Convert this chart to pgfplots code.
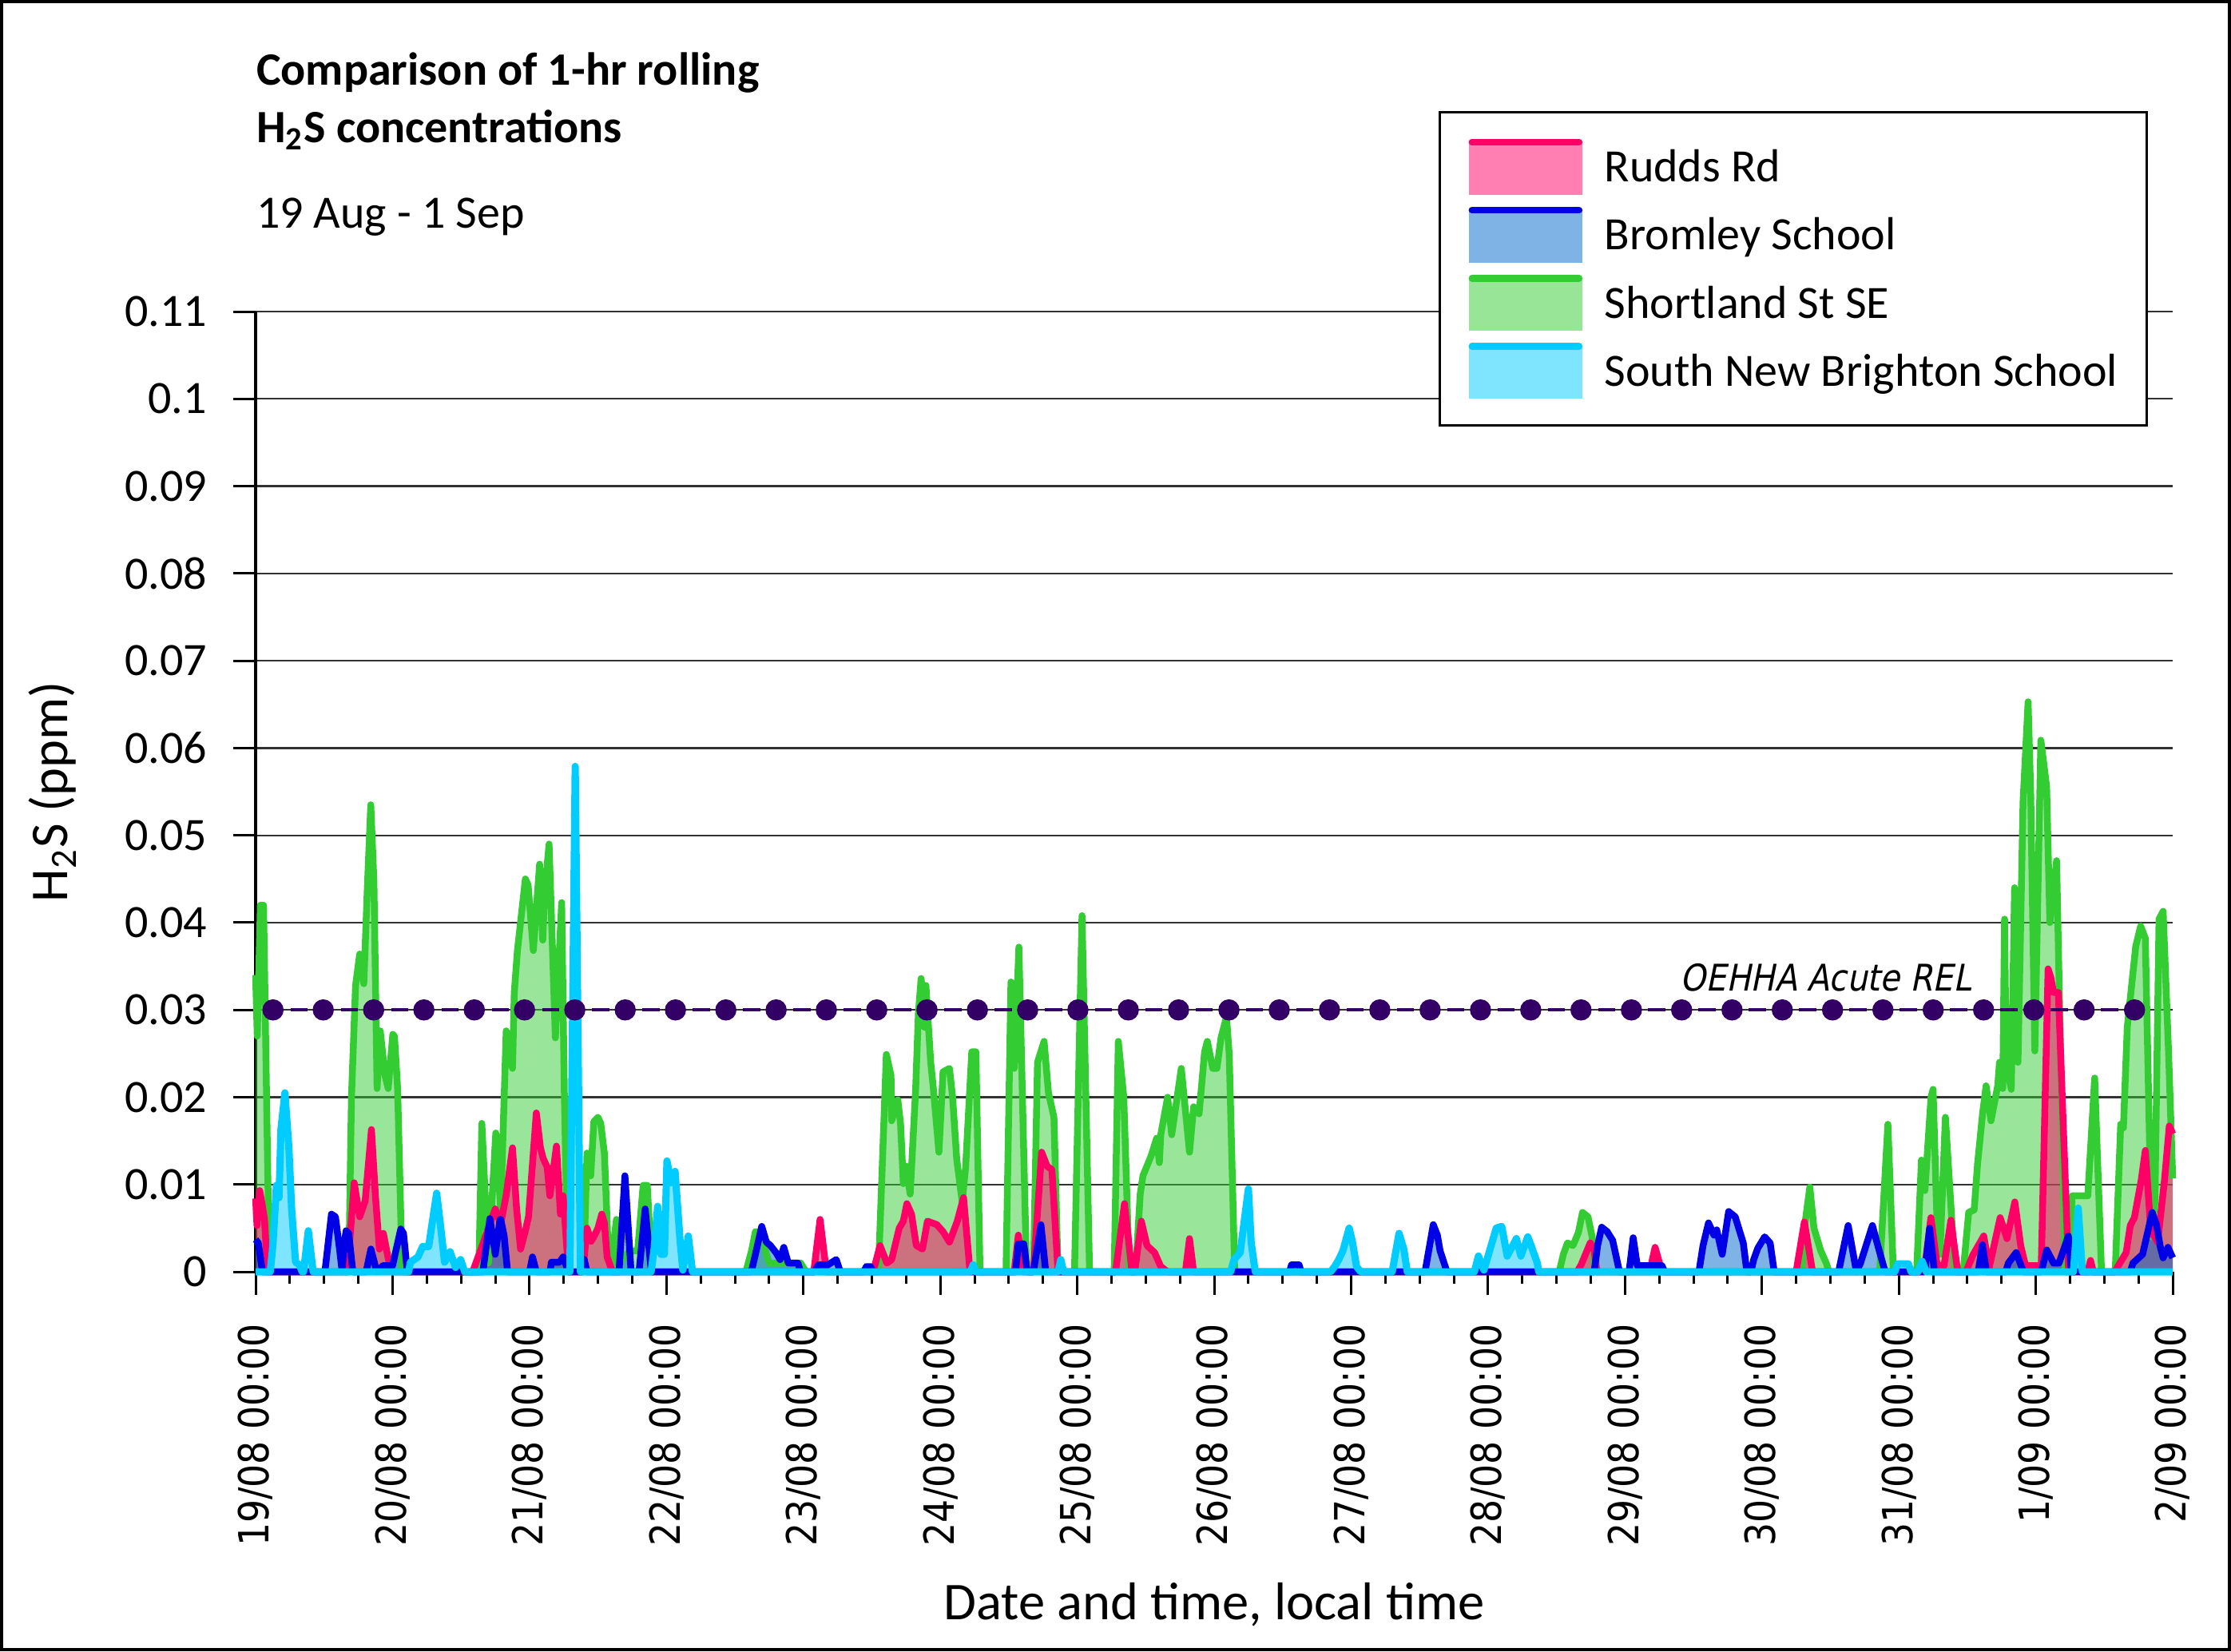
\documentclass[border=0pt]{standalone}
\usepackage{fontspec}
\setmainfont{Carlito}
\newfontfamily\tickfont[FakeStretch=0.88]{DejaVu Sans}
\newfontfamily\relfont[FakeStretch=0.88,FakeSlant=0.2]{DejaVu Sans}
\usepackage{pgfplots}
\pgfplotsset{compat=1.18}
\usepackage{pgfplotstable}

\definecolor{rrline}{RGB}{255,0,102}
\definecolor{bsline}{RGB}{0,0,230}
\definecolor{bsfill}{RGB}{0,102,204}
\definecolor{ssline}{RGB}{51,204,51}
\definecolor{snline}{RGB}{0,204,255}
\definecolor{relc}{RGB}{51,0,102}
\definecolor{gridc}{RGB}{50,50,50}

% Shortland St SE
\pgfplotstableread{
x y
0 0.034
0.012 0.027
0.035 0.042
0.058 0.042
0.08 0.02
0.1 0
0.68 0
0.70 0.020
0.73 0.0328
0.76 0.0364
0.79 0.033
0.816 0.044
0.841 0.0535
0.864 0.0447
0.887 0.021
0.91 0.0276
0.945 0.0225
0.968 0.021
1.002 0.0272
1.014 0.027
1.037 0.021
1.07 0
1.63 0
1.652 0.017
1.70 0.001
1.754 0.0159
1.79 0.0072
1.83 0.0276
1.876 0.0233
1.889 0.032
1.912 0.0368
1.97 0.045
1.99 0.0443
2.028 0.0368
2.074 0.0467
2.097 0.038
2.11 0.0432
2.143 0.049
2.189 0.0268
2.235 0.0423
2.255 0.02
2.28 0
2.395 0
2.42 0.0136
2.447 0.011
2.47 0.0172
2.50 0.0177
2.52 0.017
2.547 0.0136
2.577 0.0017
2.606 0
2.62 0.004
2.635 0.006
2.655 0.001
2.73 0.0024
2.79 0.0024
2.83 0.0099
2.86 0.0099
2.895 0
3.58 0
3.62 0.0023
3.65 0.0046
3.70 0.0045
3.73 0.002
3.75 0.001
3.98 0.001
4.02 0
4.548 0
4.606 0.0249
4.64 0.0225
4.645 0.0173
4.69 0.0197
4.71 0.0169
4.73 0.0101
4.75 0.0121
4.78 0.0089
4.82 0.0209
4.84 0.0296
4.86 0.0336
4.87 0.0318
4.885 0.028
4.895 0.0328
4.93 0.024
4.95 0.0209
4.99 0.0137
5.02 0.0229
5.067 0.0233
5.09 0.02
5.12 0.0129
5.16 0.008
5.185 0.012
5.23 0.0252
5.26 0.0252
5.29 0
5.48 0
5.516 0.0332
5.54 0.0233
5.574 0.0372
5.63 0
5.68 0
5.71 0.024
5.758 0.0264
5.79 0.0205
5.83 0.0177
5.86 0
5.98 0
6.035 0.0408
6.09 0
6.27 0
6.30 0.0264
6.34 0.02
6.38 0
6.426 0
6.46 0.0089
6.48 0.011
6.54 0.0133
6.58 0.0153
6.60 0.0125
6.61 0.0157
6.66 0.02
6.69 0.0157
6.76 0.0233
6.82 0.0137
6.85 0.0189
6.89 0.0181
6.93 0.0252
6.95 0.0264
6.99 0.0233
7.02 0.0233
7.05 0.0268
7.09 0.0292
7.11 0.0249
7.15 0
9.52 0
9.55 0.002
9.58 0.0033
9.62 0.003
9.66 0.0045
9.69 0.0068
9.73 0.0063
9.76 0.004
9.78 0
11.29 0
11.31 0.005
11.35 0.0097
11.38 0.005
11.43 0.0024
11.47 0.001
11.49 0
11.86 0
11.92 0.0169
11.96 0
12.13 0
12.165 0.0128
12.19 0.0093
12.235 0.02
12.25 0.0209
12.28 0.005
12.30 0.002
12.34 0.0177
12.41 0
12.47 0
12.51 0.0068
12.55 0.0071
12.575 0.0124
12.612 0.0182
12.637 0.0213
12.673 0.0173
12.722 0.0213
12.735 0.024
12.759 0.021
12.772 0.0404
12.784 0.024
12.821 0.0209
12.845 0.044
12.87 0.024
12.907 0.0538
12.944 0.0653
12.963 0.0547
12.993 0.0253
13.037 0.0609
13.079 0.0556
13.103 0.04
13.152 0.0471
13.214 0
13.25 0
13.265 0.0087
13.38 0.0087
13.43 0.0222
13.48 0
13.58 0
13.62 0.0169
13.64 0.0165
13.668 0.028
13.73 0.0373
13.766 0.0396
13.80 0.0382
13.845 0.004
13.87 0.008
13.90 0.0404
13.93 0.0413
13.97 0.025
14.0 0.0107
}\ssdata

% Rudds Rd
\pgfplotstableread{
x y
0 0.0084
0.01 0.0053
0.03 0.0093
0.05 0.0075
0.065 0.006
0.087 0
0.67 0
0.72 0.0102
0.76 0.0063
0.80 0.0081
0.846 0.0163
0.875 0.0087
0.904 0.0026
0.933 0.0044
0.97 0.0014
1.0 0
1.585 0
1.653 0.0029
1.70 0.005
1.75 0.0072
1.79 0.0055
1.83 0.0088
1.876 0.0142
1.906 0.0072
1.935 0.0026
1.97 0.0047
1.993 0.0063
2.05 0.0182
2.08 0.0142
2.10 0.013
2.129 0.012
2.149 0.0087
2.197 0.0144
2.226 0.0066
2.246 0.0087
2.285 0
2.39 0
2.42 0.005
2.45 0.0035
2.47 0.004
2.50 0.005
2.528 0.0066
2.547 0.0056
2.567 0.0017
2.606 0
4.076 0
4.122 0.006
4.168 0
4.51 0
4.56 0.003
4.61 0.001
4.645 0.0014
4.70 0.005
4.73 0.0058
4.756 0.0078
4.79 0.0066
4.825 0.003
4.87 0.0026
4.906 0.0058
4.975 0.0054
5.02 0.0046
5.067 0.0034
5.124 0.0058
5.17 0.0085
5.217 0
5.54 0
5.57 0.0042
5.60 0
5.68 0
5.74 0.0137
5.78 0.0121
5.815 0.0117
5.86 0
6.28 0
6.345 0.0078
6.40 0
6.42 0
6.468 0.0058
6.51 0.003
6.565 0.0022
6.61 0.0006
6.66 0
6.79 0
6.82 0.0038
6.85 0
9.65 0
9.68 0.0008
9.746 0.0033
9.775 0.0025
9.795 0
10.18 0
10.22 0.0028
10.27 0
11.25 0
11.31 0.0057
11.37 0
12.186 0
12.234 0.0062
12.28 0.0007
12.33 0.0007
12.38 0.0059
12.43 0
12.49 0
12.54 0.0019
12.62 0.0041
12.66 0.0005
12.74 0.0062
12.79 0.0038
12.847 0.008
12.89 0.003
12.925 0.0007
13.04 0.0007
13.09 0.0347
13.11 0.0337
13.13 0.032
13.165 0.032
13.24 0
13.38 0
13.40 0.0013
13.42 0
13.576 0
13.66 0.0022
13.69 0.0053
13.72 0.0062
13.77 0.0105
13.80 0.0139
13.84 0.0047
13.89 0.0034
13.94 0.0105
13.975 0.0167
14.0 0.0158
}\rrdata

% Bromley School
\pgfplotstableread{
x y
0 0.0037
0.02 0.0033
0.05 0
0.506 0
0.554 0.0066
0.583 0.0063
0.613 0.0026
0.632 0
0.645 0.003
0.661 0.0047
0.68 0.0044
0.71 0
0.807 0
0.842 0.0026
0.885 0
0.93 0.0007
1.0 0.0007
1.06 0.0049
1.08 0.0044
1.108 0
1.66 0
1.711 0.0061
1.75 0.002
1.785 0.006
1.79 0.006
1.815 0.0041
1.84 0
2.0 0
2.022 0.0017
2.05 0
2.15 0
2.16 0.0011
2.22 0.0011
2.246 0.0017
2.285 0
2.38 0
2.4 0.0014
2.42 0
2.654 0
2.697 0.011
2.742 0
2.80 0
2.845 0.0072
2.89 0
3.62 0
3.65 0.002
3.696 0.0052
3.73 0.0034
3.76 0.003
3.80 0.0022
3.83 0.0014
3.857 0.0028
3.89 0.001
3.96 0.001
3.98 0
4.08 0
4.11 0.0008
4.18 0.0008
4.24 0.0014
4.27 0
4.44 0
4.46 0.0006
4.49 0.0006
4.51 0
5.55 0
5.57 0.0032
5.61 0.0032
5.635 0
5.68 0
5.735 0.0054
5.77 0
7.55 0
7.565 0.0008
7.62 0.0008
7.635 0
8.54 0
8.60 0.0054
8.63 0.0042
8.65 0.0024
8.70 0
9.775 0
9.80 0.003
9.83 0.0051
9.87 0.0046
9.91 0.0036
9.96 0
10.03 0
10.06 0.0039
10.09 0.0007
10.27 0.0007
10.29 0
10.54 0
10.57 0.003
10.61 0.0056
10.65 0.0042
10.67 0.0048
10.71 0.002
10.757 0.0069
10.805 0.0063
10.864 0.0033
10.89 0
10.92 0
10.94 0.0014
10.97 0.0027
11.02 0.004
11.06 0.0033
11.09 0
11.56 0
11.63 0.0053
11.69 0
11.72 0.001
11.807 0.0053
11.85 0.0028
11.90 0
12.19 0
12.225 0.005
12.26 0
12.58 0
12.61 0.0031
12.64 0
12.78 0
12.80 0.001
12.857 0.0022
12.91 0
13.04 0
13.08 0.0025
13.13 0.001
13.17 0.001
13.238 0.0041
13.26 0
13.69 0
13.71 0.001
13.78 0.002
13.85 0.0068
13.88 0.0055
13.91 0.0028
13.93 0.0016
13.965 0.0028
14.0 0.0016
}\bsdata

% South New Brighton School
\pgfplotstableread{
x y
0 0
0.107 0
0.127 0.0032
0.152 0.0099
0.171 0.0085
0.185 0.0163
0.214 0.0205
0.243 0.0142
0.263 0.0072
0.292 0.0011
0.32 0.0008
0.34 0
0.35 0
0.385 0.0047
0.42 0
1.118 0
1.13 0.0011
1.186 0.0017
1.22 0.0029
1.264 0.0029
1.322 0.009
1.35 0.0053
1.38 0.0011
1.42 0.0023
1.46 0.0005
1.497 0.0014
1.527 0
2.295 0
2.334 0.0579
2.372 0
2.888 0
2.91 0.0026
2.936 0.0075
2.96 0.002
2.985 0.002
3.004 0.0127
3.034 0.0102
3.063 0.0115
3.10 0.0035
3.12 0.0002
3.16 0.0041
3.19 0
5.22 0
5.24 0.0008
5.26 0
5.86 0
5.88 0.0014
5.90 0
7.12 0
7.145 0.0014
7.19 0.0022
7.25 0.0095
7.27 0.0034
7.30 0
7.85 0
7.88 0.0006
7.91 0.0014
7.94 0.0024
7.986 0.005
8.01 0.0034
8.04 0.0006
8.07 0
8.30 0
8.35 0.0044
8.385 0.0026
8.41 0
8.90 0
8.93 0.0018
8.97 0.0002
9.06 0.005
9.10 0.0052
9.14 0.0018
9.207 0.0038
9.24 0.0018
9.29 0.004
9.31 0.0032
9.36 0.001
9.37 0
11.97 0
11.99 0.0009
12.07 0.0009
12.09 0
12.14 0
12.17 0.0012
12.20 0
13.275 0
13.31 0.0073
13.34 0
14.0 0
}\sndata

% OEHHA Acute REL
\pgfplotstableread{
x y
0.127 0.03
0.494 0.03
0.862 0.03
1.229 0.03
1.597 0.03
1.964 0.03
2.331 0.03
2.699 0.03
3.066 0.03
3.434 0.03
3.801 0.03
4.168 0.03
4.536 0.03
4.903 0.03
5.271 0.03
5.638 0.03
6.005 0.03
6.373 0.03
6.740 0.03
7.108 0.03
7.475 0.03
7.842 0.03
8.210 0.03
8.577 0.03
8.945 0.03
9.312 0.03
9.679 0.03
10.047 0.03
10.414 0.03
10.782 0.03
11.149 0.03
11.516 0.03
11.884 0.03
12.251 0.03
12.619 0.03
12.986 0.03
13.353 0.03
13.721 0.03
}\reldata

\begin{document}
\begin{tikzpicture}
\useasboundingbox (0,0) rectangle (558.6pt,-413.4pt);
\draw[line width=0.8pt] (0.4pt,-0.4pt) rectangle (558.2pt,-413pt);

\node[anchor=base west, inner sep=0pt, font=\bfseries\fontsize{11.6}{13}\selectfont] at (64pt,-21.3pt) {Comparison of 1-hr rolling};
\node[anchor=base west, inner sep=0pt, font=\bfseries\fontsize{11.6}{13}\selectfont] at (64pt,-35.6pt) {H\textsubscript{2}S concentrations};
\node[anchor=base west, inner sep=0pt, font=\fontsize{11.6}{13}\selectfont] at (64pt,-57.1pt) {19 Aug - 1 Sep};

\begin{axis}[
  at={(64pt,-318.4pt)}, anchor=south west,
  scale only axis, width=480pt, height=240.4pt,
  xmin=0, xmax=14, ymin=0, ymax=0.11,
  clip=false,
  axis x line*=bottom, axis y line*=left,
  axis line style={black, line width=0.7pt},
  tick style={black, line width=0.6pt},
  tick align=outside,
  major tick length=5.7pt, minor tick length=2.9pt,
  xtick={0,1,2,3,4,5,6,7,8,9,10,11,12,13,14},
  minor x tick num=3,
  xticklabels={19/08 00:00,20/08 00:00,21/08 00:00,22/08 00:00,23/08 00:00,24/08 00:00,25/08 00:00,26/08 00:00,27/08 00:00,28/08 00:00,29/08 00:00,30/08 00:00,31/08 00:00,1/09 00:00,2/09 00:00},
  xticklabel style={font=\tickfont\fontsize{10.4}{12}\selectfont, rotate=90, anchor=east, inner sep=0pt},
  xticklabel shift=7.2pt,
  ytick={0,0.01,0.02,0.03,0.04,0.05,0.06,0.07,0.08,0.09,0.1,0.11},
  yticklabels={0,0.01,0.02,0.03,0.04,0.05,0.06,0.07,0.08,0.09,0.1,0.11},
  yticklabel style={font=\fontsize{11.6}{13}\selectfont, inner sep=0pt, anchor=east},
  yticklabel shift=6.3pt,
  ymajorgrids,
  major grid style={gridc, line width=0.45pt},
  xlabel={Date and time, local time},
  xlabel style={font=\fontsize{13.3}{15}\selectfont, at={(axis description cs:0.5,-0.3469)}, anchor=center},
  ylabel={H\textsubscript{2}S (ppm)},
  ylabel style={font=\fontsize{13.3}{15}\selectfont, at={(axis description cs:-0.1058,0.5)}, anchor=center},
  legend style={at={(0.617,1.209)}, anchor=north west, draw=black, line width=0.7pt, fill=white,
    inner xsep=7.2pt, inner ysep=6.6pt, row sep=3.05pt, column sep=5.5pt,
    font=\fontsize{11.6}{13}\selectfont,
    nodes={inner sep=0pt, text height=7.6pt, text depth=0pt, anchor=west}},
  legend cell align=left,
]
% fills
\addplot[draw=none, fill=ssline, fill opacity=0.5, forget plot] table[x=x,y=y] {\ssdata} \closedcycle;
\addplot[draw=none, fill=rrline, fill opacity=0.5, forget plot] table[x=x,y=y] {\rrdata} \closedcycle;
\addplot[draw=none, fill=bsfill, fill opacity=0.5, forget plot] table[x=x,y=y] {\bsdata} \closedcycle;
\addplot[draw=none, fill=snline, fill opacity=0.5, forget plot] table[x=x,y=y] {\sndata} \closedcycle;
% lines
\addplot[ssline, line width=1.7pt, line join=round, no markers, forget plot] table[x=x,y=y] {\ssdata};
\addplot[rrline, line width=1.7pt, line join=round, no markers, forget plot] table[x=x,y=y] {\rrdata};
\addplot[bsline, line width=1.7pt, line join=round, no markers, forget plot] table[x=x,y=y] {\bsdata};
\addplot[snline, line width=1.8pt, line join=round, no markers, forget plot] table[x=x,y=y] {\sndata};
% REL
\addplot[relc, line width=0.9pt, dash pattern=on 4.3pt off 8.29pt, dash phase=8.19pt,
  mark=*, mark size=2.2pt, mark options={solid, fill=relc, draw=relc}, forget plot] table[x=x,y=y] {\reldata};
\node[anchor=base west, inner sep=0pt, font=\relfont\fontsize{9.2}{11}\selectfont] at (axis cs:10.40,0.0322) {OEHHA Acute REL};

% legend
\addlegendimage{legend image code/.code={
  \fill[rrline, fill opacity=0.5, draw=none] (0pt,-7pt) rectangle (28.5pt,6.2pt);
  \draw[rrline, line width=1.7pt, line cap=round, fill=none] (0.85pt,6.15pt) -- (27.65pt,6.15pt);}}
\addlegendentry{Rudds Rd}
\addlegendimage{legend image code/.code={
  \fill[bsfill, fill opacity=0.5, draw=none] (0pt,-7pt) rectangle (28.5pt,6.2pt);
  \draw[bsline, line width=1.7pt, line cap=round, fill=none] (0.85pt,6.15pt) -- (27.65pt,6.15pt);}}
\addlegendentry{Bromley School}
\addlegendimage{legend image code/.code={
  \fill[ssline, fill opacity=0.5, draw=none] (0pt,-7pt) rectangle (28.5pt,6.2pt);
  \draw[ssline, line width=1.7pt, line cap=round, fill=none] (0.85pt,6.15pt) -- (27.65pt,6.15pt);}}
\addlegendentry{Shortland St SE}
\addlegendimage{legend image code/.code={
  \fill[snline, fill opacity=0.5, draw=none] (0pt,-7pt) rectangle (28.5pt,6.2pt);
  \draw[snline, line width=1.7pt, line cap=round, fill=none] (0.85pt,6.15pt) -- (27.65pt,6.15pt);}}
\addlegendentry{South New Brighton School}
\end{axis}
\end{tikzpicture}
\end{document}
